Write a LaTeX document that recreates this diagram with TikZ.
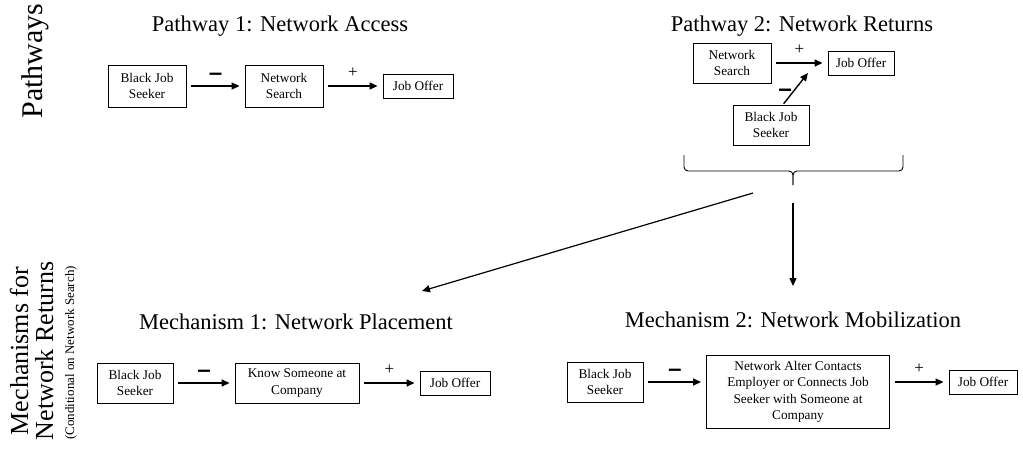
\documentclass[tikz,border=0pt]{standalone}
\usepackage{fontspec}
\setmainfont{Liberation Serif}
\newfontfamily\signfont[FakeBold=3]{Liberation Serif Bold}
\usetikzlibrary{arrows.meta}

\begin{document}
\begin{tikzpicture}[x=1pt, y=-1pt,
    box/.style={draw, line width=0.9pt, align=center, inner sep=2pt, minimum height=42pt, font=\fontsize{13.3}{16.5}\selectfont},
    onebox/.style={box, minimum height=24pt},
    link/.style={-{Triangle[length=8pt,width=7pt]}, line width=1.4pt, shorten <=5pt, shorten >=5pt},
    heading/.style={anchor=base, font=\fontsize{22.5}{27}\selectfont},
    side/.style={rotate=90, anchor=base},
    signminus/.style={font=\signfont\fontsize{22}{22}\selectfont, yshift=10pt},
    signplus/.style={font=\fontsize{17}{17}\selectfont, yshift=13pt}]
    \useasboundingbox (0,0) rectangle (1023,448);

    % Side labels
    \node[side, font=\fontsize{30}{30}\selectfont] (pw) at (42,61) {Pathways};
    \node[side, font=\fontsize{26}{26}\selectfont] (mf) at (28,351) {Mechanisms for};
    \node[side, font=\fontsize{26}{26}\selectfont] (nr) at (53,351) {Network Returns};
    \node[side, font=\fontsize{13}{13}\selectfont] (cond) at (74,353) {(Conditional on Network Search)};

    % Pathway 1
    \node[heading] (t1) at (280,31) {Pathway 1: Network Access};
    \node[box, minimum width=78pt] (bjs1) at (147,86) {Black Job\\Seeker};
    \node[box, minimum width=78pt] (ns1) at (284,86) {Network\\Search};
    \node[onebox, minimum width=70pt] (jo1) at (418,86) {Job Offer};
    \draw[link] (bjs1) -- node[signminus] {–} (ns1);
    \draw[link] (ns1) -- node[signplus] {+} (jo1);

    % Pathway 2
    \node[heading] (t2) at (802,31) {Pathway 2: Network Returns};
    \node[box, minimum width=78pt, minimum height=40pt] (ns2) at (732,63) {Network\\Search};
    \node[onebox, minimum width=66pt] (jo2) at (861,63) {Job Offer};
    \node[box, minimum width=76pt, minimum height=40pt] (bjs2) at (771,125) {Black Job\\Seeker};
    \coordinate (hit) at (808,73);
    \draw[link] (ns2) -- node[signplus] {+} (jo2);
    \draw[link, shorten <=1pt, shorten >=0pt] ([xshift=12pt]bjs2.north) -- node[signminus, pos=0.4, xshift=-8pt, yshift=-10pt] {–} (hit);

    % Brace under pathway 2
    \coordinate (brL) at (684,155);
    \coordinate (brR) at (903,155);
    \coordinate (brM) at (793,171);
    \coordinate (brTip) at (793,185);
    \draw[line width=0.9pt, rounded corners=4pt] (brL) |- (brM) -- (brTip);
    \draw[line width=0.9pt, rounded corners=4pt] (brR) |- (brM) -- (brTip);

    % From brace to mechanisms
    \coordinate (fromA) at (753,193);
    \coordinate (toA) at (422,291);
    \coordinate (fromB) at (793,203);
    \coordinate (toB) at (793,286);
    \draw[-{Triangle[length=8pt,width=7pt]}, line width=1.2pt] (fromA) -- (toA);
    \draw[-{Triangle[length=8pt,width=7pt]}, line width=1.2pt] (fromB) -- (toB);

    % Mechanism 1
    \node[heading] (t3) at (296,329) {Mechanism 1: Network Placement};
    \node[box, minimum width=76pt, minimum height=40pt] (bjs3) at (135,383) {Black Job\\Seeker};
    \node[box, minimum width=124pt, minimum height=40pt] (kn3) at (297,383) {Know Someone at\\Company};
    \node[onebox, minimum width=70pt] (jo3) at (455,383) {Job Offer};
    \draw[link] (bjs3) -- node[signminus] {–} (kn3);
    \draw[link] (kn3) -- node[signplus] {+} (jo3);

    % Mechanism 2
    \node[heading] (t4) at (793,327) {Mechanism 2: Network Mobilization};
    \node[box, minimum width=76pt, minimum height=40pt] (bjs4) at (605,382) {Black Job\\Seeker};
    \node[box, minimum width=183pt, minimum height=73pt] (mob4) at (798,392) {Network Alter Contacts\\Employer or Connects Job\\Seeker with Someone at\\Company};
    \node[onebox, minimum width=68pt] (jo4) at (983,382) {Job Offer};
    \draw[link] (bjs4.east) -- node[signminus] {–} (mob4.west |- bjs4.east);
    \draw[link] (mob4.east |- jo4.west) -- node[signplus] {+} (jo4.west);

\end{tikzpicture}
\end{document}
